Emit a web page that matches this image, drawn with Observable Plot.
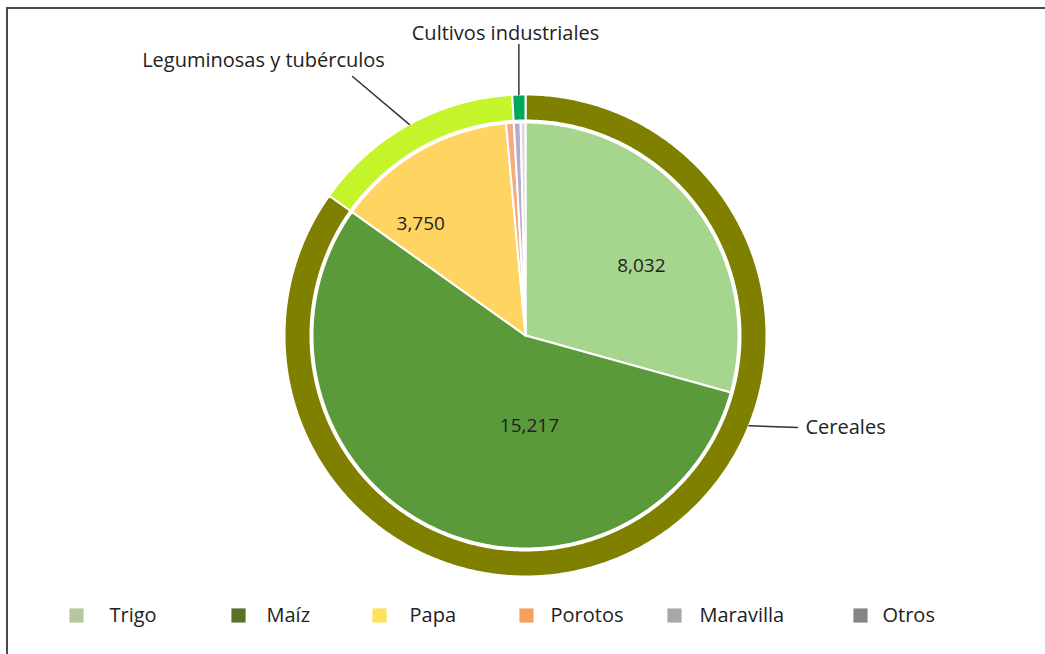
<!DOCTYPE html>
<html>
<head>
<meta charset="utf-8">
<script src="https://cdn.jsdelivr.net/npm/d3@7"></script>
<script src="https://cdn.jsdelivr.net/npm/@observablehq/plot@0.6"></script>
<style>
  html, body { margin: 0; padding: 0; background: #ffffff; }
  #wrap { position: relative; width: 1045px; height: 654px; overflow: hidden; }
  #frame { position: absolute; left: 6px; top: 7px; width: 1100px; height: 700px;
           border-top: 2px solid #4a4a4a; border-left: 2px solid #4a4a4a; pointer-events: none; }
  svg { display: block; }
</style>
</head>
<body>
<div id="wrap"><div id="chart"></div><div id="frame"></div></div>
<script>
// ---- data ----
const categories = ["Trigo", "Maíz", "Papa", "Porotos", "Maravilla", "Otros"];
const values = [8032, 15217, 3750, 160, 140, 100];
const groupOf = ["Cereales", "Cereales", "Leguminosas y tubérculos", "Leguminosas y tubérculos", "Cultivos industriales", "Cultivos industriales"];
const groups = ["Cereales", "Leguminosas y tubérculos", "Cultivos industriales"];
const labelledCategories = ["Trigo", "Maíz", "Papa"];

// ---- styles ----
const sliceColors = ["#a6d68e", "#5a9a3a", "#ffd462", "#f4ab80", "#b9a9cc", "#d9d9e0"];
const legendColors = ["#b5c89c", "#5d7028", "#ffe15c", "#f2a05a", "#a8a8a8", "#858585"];
const groupColors = ["#808000", "#c3f52a", "#00a85a"];

// ---- layout ----
const cx = 525, cy = 335, rPie = 213, rRing0 = 215, rRing1 = 241;
const valueLabelLayout = {Trigo: {t: 0.56, r: 135}, "Maíz": {t: 0.36, r: 90}, Papa: {t: 0.23, r: 153}};
const calloutLayout = {
  "Cereales": {angleDeg: 112, end: [797, 427], text: [805, 427], anchor: "start"},
  "Leguminosas y tubérculos": {angleDeg: null, end: [352, 76], text: [263, 60], anchor: "middle"},
  "Cultivos industriales": {angleDeg: null, end: null, len: 50, text: [505, 33], anchor: "middle"}
};
const legendSwatchX = [76, 238, 379, 526, 674, 860];
const legendTextX = [109, 266, 409, 550, 699, 882];
const legendY = 615;

const font = "'Open Sans', 'Liberation Sans', sans-serif";

// ---- build geometry ----
const rows = categories.map((c, i) => ({category: c, value: values[i], group: groupOf[i], color: sliceColors[i]}));
const pie = d3.pie().sort(null).value(d => d.value).startAngle(0).endAngle(2 * Math.PI);
const innerArcs = pie(rows);
const groupRows = groups.map((g, i) => ({group: g, value: d3.sum(rows.filter(r => r.group === g), r => r.value), color: groupColors[i]}));
const outerArcs = pie(groupRows);

function pt(a, r) { return [cx + r * Math.sin(a), cy - r * Math.cos(a)]; }
function arcPoly(id, a0, a1, r0, r1, color) {
  const pts = [];
  const n = Math.max(2, Math.ceil((a1 - a0) / (Math.PI / 360)));
  for (let i = 0; i <= n; i++) { const [x, y] = pt(a0 + (a1 - a0) * i / n, r1); pts.push({id, color, x, y}); }
  if (r0 === 0) pts.push({id, color, x: cx, y: cy});
  else for (let i = n; i >= 0; i--) { const [x, y] = pt(a0 + (a1 - a0) * i / n, r0); pts.push({id, color, x, y}); }
  pts.push({...pts[0]});
  return pts;
}
const polys = [];
innerArcs.forEach(a => polys.push(...arcPoly("in-" + a.data.category, a.startAngle, a.endAngle, 0, rPie, a.data.color)));
outerArcs.forEach(a => polys.push(...arcPoly("out-" + a.data.group, a.startAngle, a.endAngle, rRing0, rRing1, a.data.color)));

const valueLabels = innerArcs.filter(a => labelledCategories.includes(a.data.category)).map(a => {
  const L = valueLabelLayout[a.data.category];
  const [x, y] = pt(a.startAngle + (a.endAngle - a.startAngle) * L.t, L.r);
  return {x, y, text: d3.format(",")(a.data.value)};
});

const leaderPts = [];
const calloutTexts = [];
outerArcs.forEach(a => {
  const L = calloutLayout[a.data.group];
  const ang = L.angleDeg != null ? L.angleDeg * Math.PI / 180 : (a.startAngle + a.endAngle) / 2;
  const [x0, y0] = pt(ang, rRing1);
  const end = L.end || [x0, y0 - L.len];
  leaderPts.push({id: a.data.group, x: x0, y: y0}, {id: a.data.group, x: end[0], y: end[1]});
  calloutTexts.push({x: L.text[0], y: L.text[1], text: a.data.group, anchor: L.anchor});
});

const legend = categories.map((c, i) => ({category: c, color: legendColors[i], sx: legendSwatchX[i], tx: legendTextX[i]}));

const chart = Plot.plot({
  width: 1045, height: 654, margin: 0,
  x: {domain: [0, 1045], range: [0, 1045], axis: null},
  y: {domain: [0, 654], range: [0, 654], axis: null},
  color: {type: "identity"},
  style: {background: "transparent", fontFamily: font},
  marks: [
    Plot.line(polys, {x: "x", y: "y", z: "id", fill: "color", stroke: "white", strokeWidth: 2, strokeLinejoin: "round", curve: "linear"}),
    Plot.text(valueLabels, {x: "x", y: "y", text: "text", fill: "#222", fontSize: 19}),
    Plot.line(leaderPts, {x: "x", y: "y", z: "id", stroke: "#333", strokeWidth: 1.5}),
    Plot.text(calloutTexts.filter(d => d.anchor === "start"), {x: "x", y: "y", text: "text", textAnchor: "start", fill: "#222", fontSize: 20}),
    Plot.text(calloutTexts.filter(d => d.anchor === "middle"), {x: "x", y: "y", text: "text", textAnchor: "middle", fill: "#222", fontSize: 20}),
    Plot.dot(legend, {x: "sx", y: () => legendY, symbol: "square", r: 8, fill: "color", stroke: null}),
    Plot.text(legend, {x: "tx", y: () => legendY, text: "category", textAnchor: "start", fill: "#222", fontSize: 20})
  ]
});
document.getElementById("chart").appendChild(chart);
</script>
</body>
</html>
